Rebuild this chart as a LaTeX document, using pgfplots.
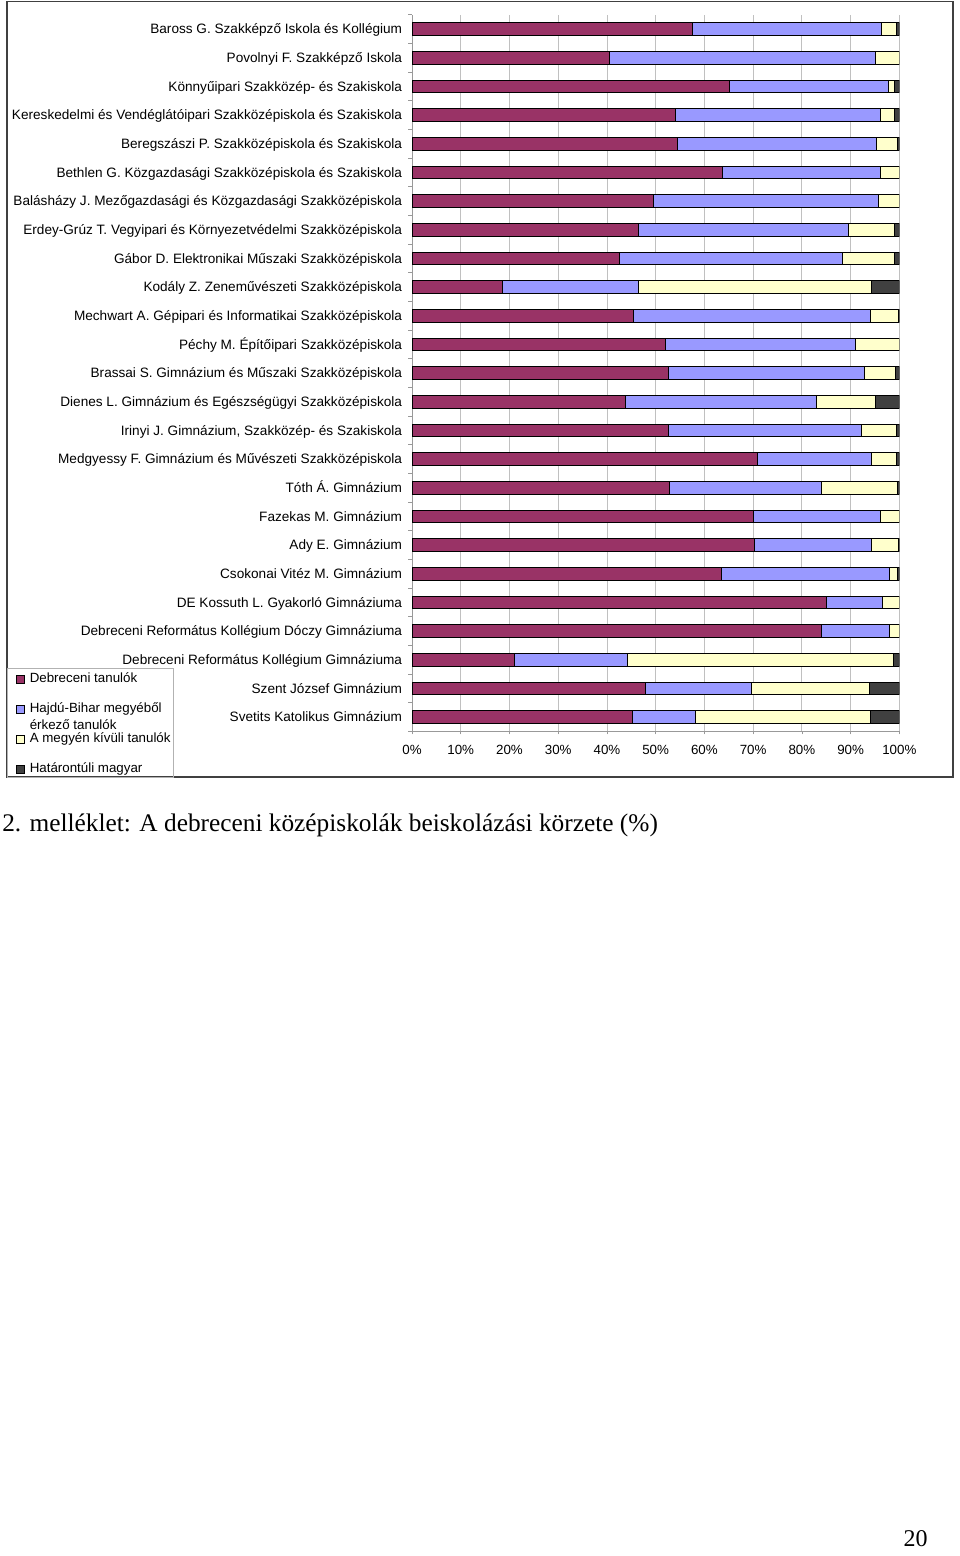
\documentclass[border=0pt]{standalone}
\usepackage{fontspec}
\setmainfont{Liberation Serif}
\newfontfamily\arial{Liberation Sans}
\usepackage{pgfplots}
\pgfplotsset{compat=1.18}
\usepackage{pgfplotstable}

\definecolor{debr}{HTML}{993366}
\definecolor{hb}{HTML}{9999FF}
\definecolor{kivul}{HTML}{FFFFCC}
\definecolor{hatar}{HTML}{404040}
\definecolor{racs}{HTML}{C0C0C0}

% y: 24 = felso sor (Baross), 0 = also sor (Svetits)
\pgfplotstableread{
y  a    b    c    d
24 57.6 38.7 3.1  0.6
23 40.4 54.6 5.0  0
22 65.1 32.7 1.1  1.1
21 54.0 42.1 2.9  1.0
20 54.5 40.8 4.2  0.5
19 63.6 32.5 3.9  0
18 49.6 46.0 4.4  0
17 46.5 43.1 9.3  1.1
16 42.6 45.8 10.5 1.1
15 18.5 27.9 47.8 5.8
14 45.4 48.6 5.7  0.3
13 51.9 39.1 9.0  0
12 52.7 40.1 6.4  0.8
11 43.7 39.3 12.1 4.9
10 52.7 39.4 7.3  0.6
9  70.8 23.5 5.1  0.6
8  52.9 31.1 15.5 0.5
7  70.0 26.1 3.9  0
6  70.2 24.1 5.4  0.3
5  63.5 34.4 1.7  0.4
4  85.0 11.6 3.4  0
3  84.0 13.9 2.1  0
2  21.1 23.1 54.5 1.3
1  47.8 21.9 24.1 6.2
0  45.2 12.9 35.9 6.0
}\korzet

\pgfplotsset{
  negyzet/.style={legend image code/.code={\draw[##1,draw=black,line width=0.4pt] (0pt,-3pt) rectangle (6pt,3pt);}},
}

\begin{document}
\begin{tikzpicture}
\begin{scope}[x=0.75pt,y=-0.75pt]
  \path (0,0) rectangle (960,1556);
  \draw[line width=1.1pt, black!75] (7,1.5) rectangle (953,777);
  \draw[gray!60, line width=0.5pt] (7,668) rectangle (173,777);
  \node[anchor=base west, inner sep=0pt, font=\fontsize{19}{23}\selectfont] at (2,831)
    {2. melléklet: A debreceni középiskolák beiskolázási körzete (\%)};
  \node[anchor=base east, inner sep=0pt, font=\fontsize{18}{22}\selectfont] at (928,1546) {20};
\end{scope}
\begin{axis}[
  at={(309pt,-11pt)}, anchor=north west,
  scale only axis, width=365.5pt, height=537.5pt,
  xbar stacked, bar width=9.5pt,
  xmin=0, xmax=100, ymin=-0.5, ymax=24.5,
  axis x line*=bottom, axis y line*=left,
  axis line style={draw=gray!80, line width=0.5pt},
  tick align=outside,
  major tick length=2.25pt, minor tick length=3pt,
  tick style={gray!80, line width=0.5pt},
  major y tick style={draw=none},
  xtick={0,10,...,100},
  xticklabels={0\%,10\%,20\%,30\%,40\%,50\%,60\%,70\%,80\%,90\%,100\%},
  xmajorgrids, major grid style={racs, line width=0.6pt},
  ytick={0,...,24},
  minor ytick={-0.5,0.5,...,24.5},
  yticklabels={
    Svetits Katolikus Gimnázium,
    Szent József Gimnázium,
    Debreceni Református Kollégium Gimnáziuma,
    Debreceni Református Kollégium Dóczy Gimnáziuma,
    DE Kossuth L. Gyakorló Gimnáziuma,
    Csokonai Vitéz M. Gimnázium,
    Ady E. Gimnázium,
    Fazekas M. Gimnázium,
    Tóth Á. Gimnázium,
    Medgyessy F. Gimnázium és Művészeti Szakközépiskola,
    {Irinyi J. Gimnázium, Szakközép- és Szakiskola},
    Dienes L. Gimnázium és Egészségügyi Szakközépiskola,
    Brassai S. Gimnázium és Műszaki Szakközépiskola,
    Péchy M. Építőipari Szakközépiskola,
    Mechwart A. Gépipari és Informatikai Szakközépiskola,
    Kodály Z. Zeneművészeti Szakközépiskola,
    Gábor D. Elektronikai Műszaki Szakközépiskola,
    Erdey-Grúz T. Vegyipari és Környezetvédelmi Szakközépiskola,
    Balásházy J. Mezőgazdasági és Közgazdasági Szakközépiskola,
    Bethlen G. Közgazdasági Szakközépiskola és Szakiskola,
    Beregszászi P. Szakközépiskola és Szakiskola,
    Kereskedelmi és Vendéglátóipari Szakközépiskola és Szakiskola,
    Könnyűipari Szakközép- és Szakiskola,
    Povolnyi F. Szakképző Iskola,
    Baross G. Szakképző Iskola és Kollégium},
  tick label style={font=\arial\fontsize{10}{12}\selectfont, black},
  yticklabel style={font=\arial\fontsize{10.2}{12}\selectfont, inner sep=0pt, xshift=-5pt, text height=7.2pt, text depth=0pt},
  xticklabel style={inner sep=0pt, yshift=-8pt},
  legend style={at={(-0.8126,0.0828)}, anchor=north west, draw=none, fill=none,
    inner sep=0pt, row sep=12.5pt, column sep=3.75pt,
    font=\arial\fontsize{10}{12}\selectfont,
    nodes={inner sep=0pt, text height=7.5pt, text depth=2.5pt}},
  legend cell align=left,
]
\addplot[fill=debr, draw=black, line width=0.5pt, negyzet] table[x=a, y=y] {\korzet};
\addlegendentry{Debreceni tanulók}
\addplot[fill=hb, draw=black, line width=0.5pt, negyzet] table[x=b, y=y] {\korzet};
\addlegendentry{{\begin{tabular}[t]{@{}l@{}}Hajdú-Bihar megyéből\\[0.75pt]érkező tanulók\end{tabular}}}
\addplot[fill=kivul, draw=black, line width=0.5pt, negyzet] table[x=c, y=y] {\korzet};
\addlegendentry{A megyén kívüli tanulók}
\addplot[fill=hatar, draw=black, line width=0.5pt, negyzet] table[x=d, y=y] {\korzet};
\addlegendentry{Határontúli magyar}
\end{axis}
\end{tikzpicture}
\end{document}
